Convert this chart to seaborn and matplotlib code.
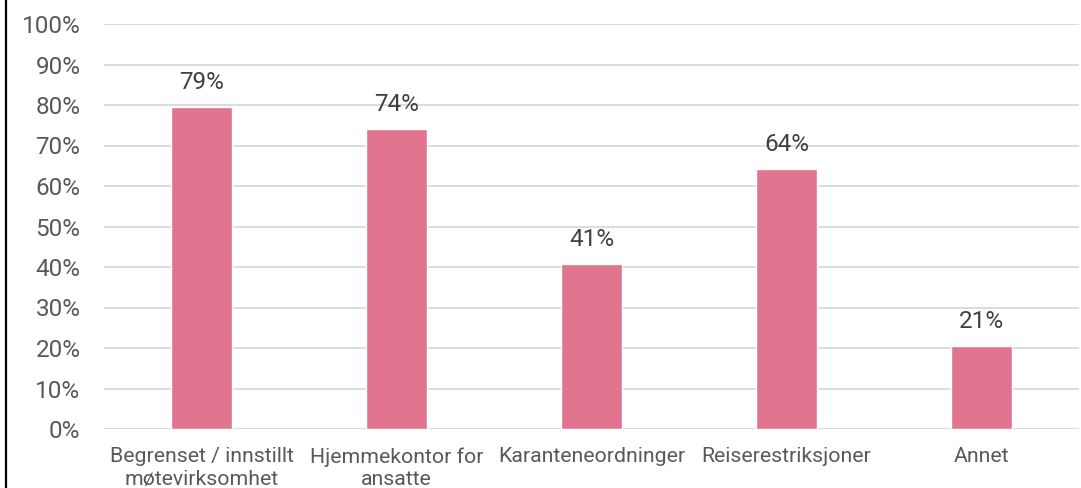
import matplotlib
matplotlib.use("Agg")
import matplotlib.pyplot as plt
import seaborn as sns
import pandas as pd
from matplotlib.lines import Line2D
from matplotlib.ticker import MultipleLocator, FuncFormatter

categories = ["Begrenset / innstillt\nmøtevirksomhet", "Hjemmekontor for\nansatte",
              "Karanteneordninger", "Reiserestriksjoner", "Annet"]
values = [79.4, 74.0, 40.8, 64.3, 20.5]
labels = ["79%", "74%", "41%", "64%", "21%"]

sns.set_theme(style="white")
plt.rcParams['font.family'] = ['Roboto', 'DejaVu Sans']

df = pd.DataFrame({"cat": categories, "val": values})

fig = plt.figure(figsize=(10.81, 4.88), dpi=100)
ax = fig.add_axes([104/1081, 1 - 429/488, (1079 - 104)/1081, (429 - 24)/488])
sns.barplot(data=df, x="cat", y="val", color="#E1748F", saturation=1, width=0.315, ax=ax, zorder=3)

ax.set_ylim(0, 100)
ax.set_xlim(-0.5, len(categories) - 0.5)
ax.yaxis.set_major_locator(MultipleLocator(10))
ax.yaxis.set_major_formatter(FuncFormatter(lambda v, p: f"{int(round(v))}%"))
ax.grid(axis="y", color="#D9D9D9", linewidth=1.3, zorder=0)
ax.set_axisbelow(True)
for s in ax.spines.values():
    s.set_visible(False)
ax.set_xlabel("")
ax.set_ylabel("")
ax.tick_params(axis="both", length=0, labelcolor="#595959")
ax.tick_params(axis="y", pad=17, labelsize=17.5)
ax.tick_params(axis="x", pad=13, labelsize=15.3)
for lab in ax.get_xticklabels():
    lab.set_linespacing(1.26)

for i, (v, t) in enumerate(zip(values, labels)):
    ax.annotate(t, (i, v), xytext=(0, 13), textcoords="offset points",
                ha="center", va="baseline", fontsize=17.5, color="#404040")

fig.add_artist(Line2D([5.5/1081, 5.5/1081], [0, 1], transform=fig.transFigure,
                      color="black", linewidth=1.6))

fig.savefig("out.png", dpi=100, facecolor="white")
